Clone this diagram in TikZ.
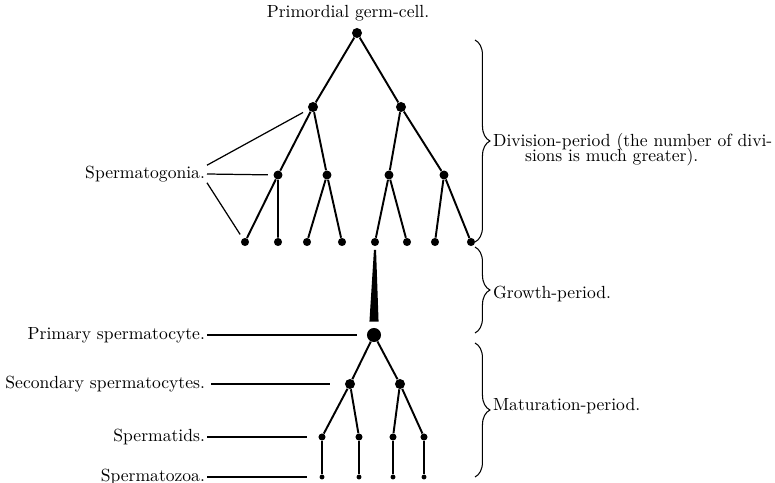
\documentclass[tikz,border=0pt]{standalone}
\usepackage{tikz}
\usetikzlibrary{decorations.pathreplacing}

\begin{document}
\begin{tikzpicture}[x=0.02cm,y=-0.02cm,
  germ/.style={circle,fill=black,inner sep=0pt,minimum size=#1},
  germ/.default=5.1pt,
  branch/.style={line width=1.1pt},
  pointer/.style={line width=0.7pt},
  lbl/.style={inner sep=1pt,font=\fontsize{10}{10}\selectfont},
  period/.style={line width=0.6pt,decorate,decoration={brace,amplitude=8.5pt}}]
\useasboundingbox (0,0) rectangle (775,483);
% division-period
\node[germ=5.7pt] (pgc) at (357,33) {};
\node[germ=5.7pt] (g1) at (313,107) {};
\node[germ=5.7pt] (g2) at (401,107) {};
\node[germ] (g11) at (278,175) {};
\node[germ] (g12) at (327,175) {};
\node[germ] (g21) at (389,175) {};
\node[germ] (g22) at (444,175) {};
\node[germ=4.6pt] (g111) at (245,242) {};
\node[germ=4.6pt] (g112) at (278,242) {};
\node[germ=4.6pt] (g121) at (307,242) {};
\node[germ=4.6pt] (g122) at (342,242) {};
\node[germ=4.6pt] (g211) at (375,242) {};
\node[germ=4.6pt] (g212) at (407,242) {};
\node[germ=4.6pt] (g221) at (435,242) {};
\node[germ=4.6pt] (g222) at (471,242) {};
\draw[branch] (pgc) -- (g1) (pgc) -- (g2);
\draw[branch] (g1) -- (g11) (g1) -- (g12) (g2) -- (g21) (g2) -- (g22);
\draw[branch] (g11) -- (g111) (g11) -- (g112) (g12) -- (g121) (g12) -- (g122);
\draw[branch] (g21) -- (g211) (g21) -- (g212) (g22) -- (g221) (g22) -- (g222);
% growth-period
\node[germ=8pt] (pc) at (374,335) {};
\fill ([xshift=-0.6pt,yshift=-2pt]g211.south) -- ([xshift=0.6pt,yshift=-2pt]g211.south)
  -- ([xshift=2.6pt,yshift=3.4pt]pc.north) -- ([xshift=-2.6pt,yshift=3.4pt]pc.north) -- cycle;
% maturation-period
\node[germ=5.7pt] (s1) at (350,384) {};
\node[germ=5.7pt] (s2) at (400,384) {};
\node[germ=4pt] (t1) at (322,437) {};
\node[germ=4pt] (t2) at (359,437) {};
\node[germ=4pt] (t3) at (393,437) {};
\node[germ=4pt] (t4) at (424,437) {};
\node[germ=2.8pt] (z1) at (322,477) {};
\node[germ=2.8pt] (z2) at (359,477) {};
\node[germ=2.8pt] (z3) at (393,477) {};
\node[germ=2.8pt] (z4) at (424,477) {};
\draw[branch] (pc) -- (s1) (pc) -- (s2);
\draw[branch] (s1) -- (t1) (s1) -- (t2) (s2) -- (t3) (s2) -- (t4);
\draw[branch] (t1) -- (z1) (t2) -- (z2) (t3) -- (z3) (t4) -- (z4);
% labels
\node[lbl,anchor=base] (lpgc) at (348,18) {Primordial germ-cell.};
\node[lbl,anchor=east] (lgon) at (207,174) {Spermatogonia.};
\draw[pointer,shorten >=3.4pt] ([yshift=5pt]lgon.east) -- (g1);
\draw[pointer,shorten >=3pt] (lgon.east) -- (g11);
\draw[pointer,shorten >=2.6pt] ([yshift=-5pt]lgon.east) -- (g111);
\node[lbl,anchor=east] (lprim) at (207,335) {Primary spermatocyte.};
\draw[pointer,shorten >=5.7pt] (lprim) -- (pc);
\node[lbl,anchor=east] (lsec) at (207,384) {Secondary spermatocytes.};
\draw[pointer,shorten >=8.5pt] ([xshift=2.5pt]lsec.east) -- (s1);
\node[lbl,anchor=east] (ltid) at (207,437) {Spermatids.};
\draw[pointer,shorten >=6.3pt] (ltid) -- (t1);
\node[lbl,anchor=east] (lzoa) at (207,477) {Spermatozoa.};
\draw[pointer,shorten >=6.8pt] (lzoa) -- (z1);
% periods
\coordinate (d1) at (475,40);
\coordinate (d2) at (475,242);
\coordinate (r1) at (475,247);
\coordinate (r2) at (475,333);
\coordinate (m1) at (475,343);
\coordinate (m2) at (475,477);
\draw[period] (d1) -- (d2);
\draw[period] (r1) -- (r2);
\draw[period] (m1) -- (m2);
\node[lbl,anchor=base west] (ldiv) at (491,147) {Division-period (the number of divi-};
\node[lbl,anchor=base west] (ldiv2) at (523,162) {sions is much greater).};
\node[lbl,anchor=base west] (lgro) at (491,298) {Growth-period.};
\node[lbl,anchor=base west] (lmat) at (491,410) {Maturation-period.};
\end{tikzpicture}
\end{document}
